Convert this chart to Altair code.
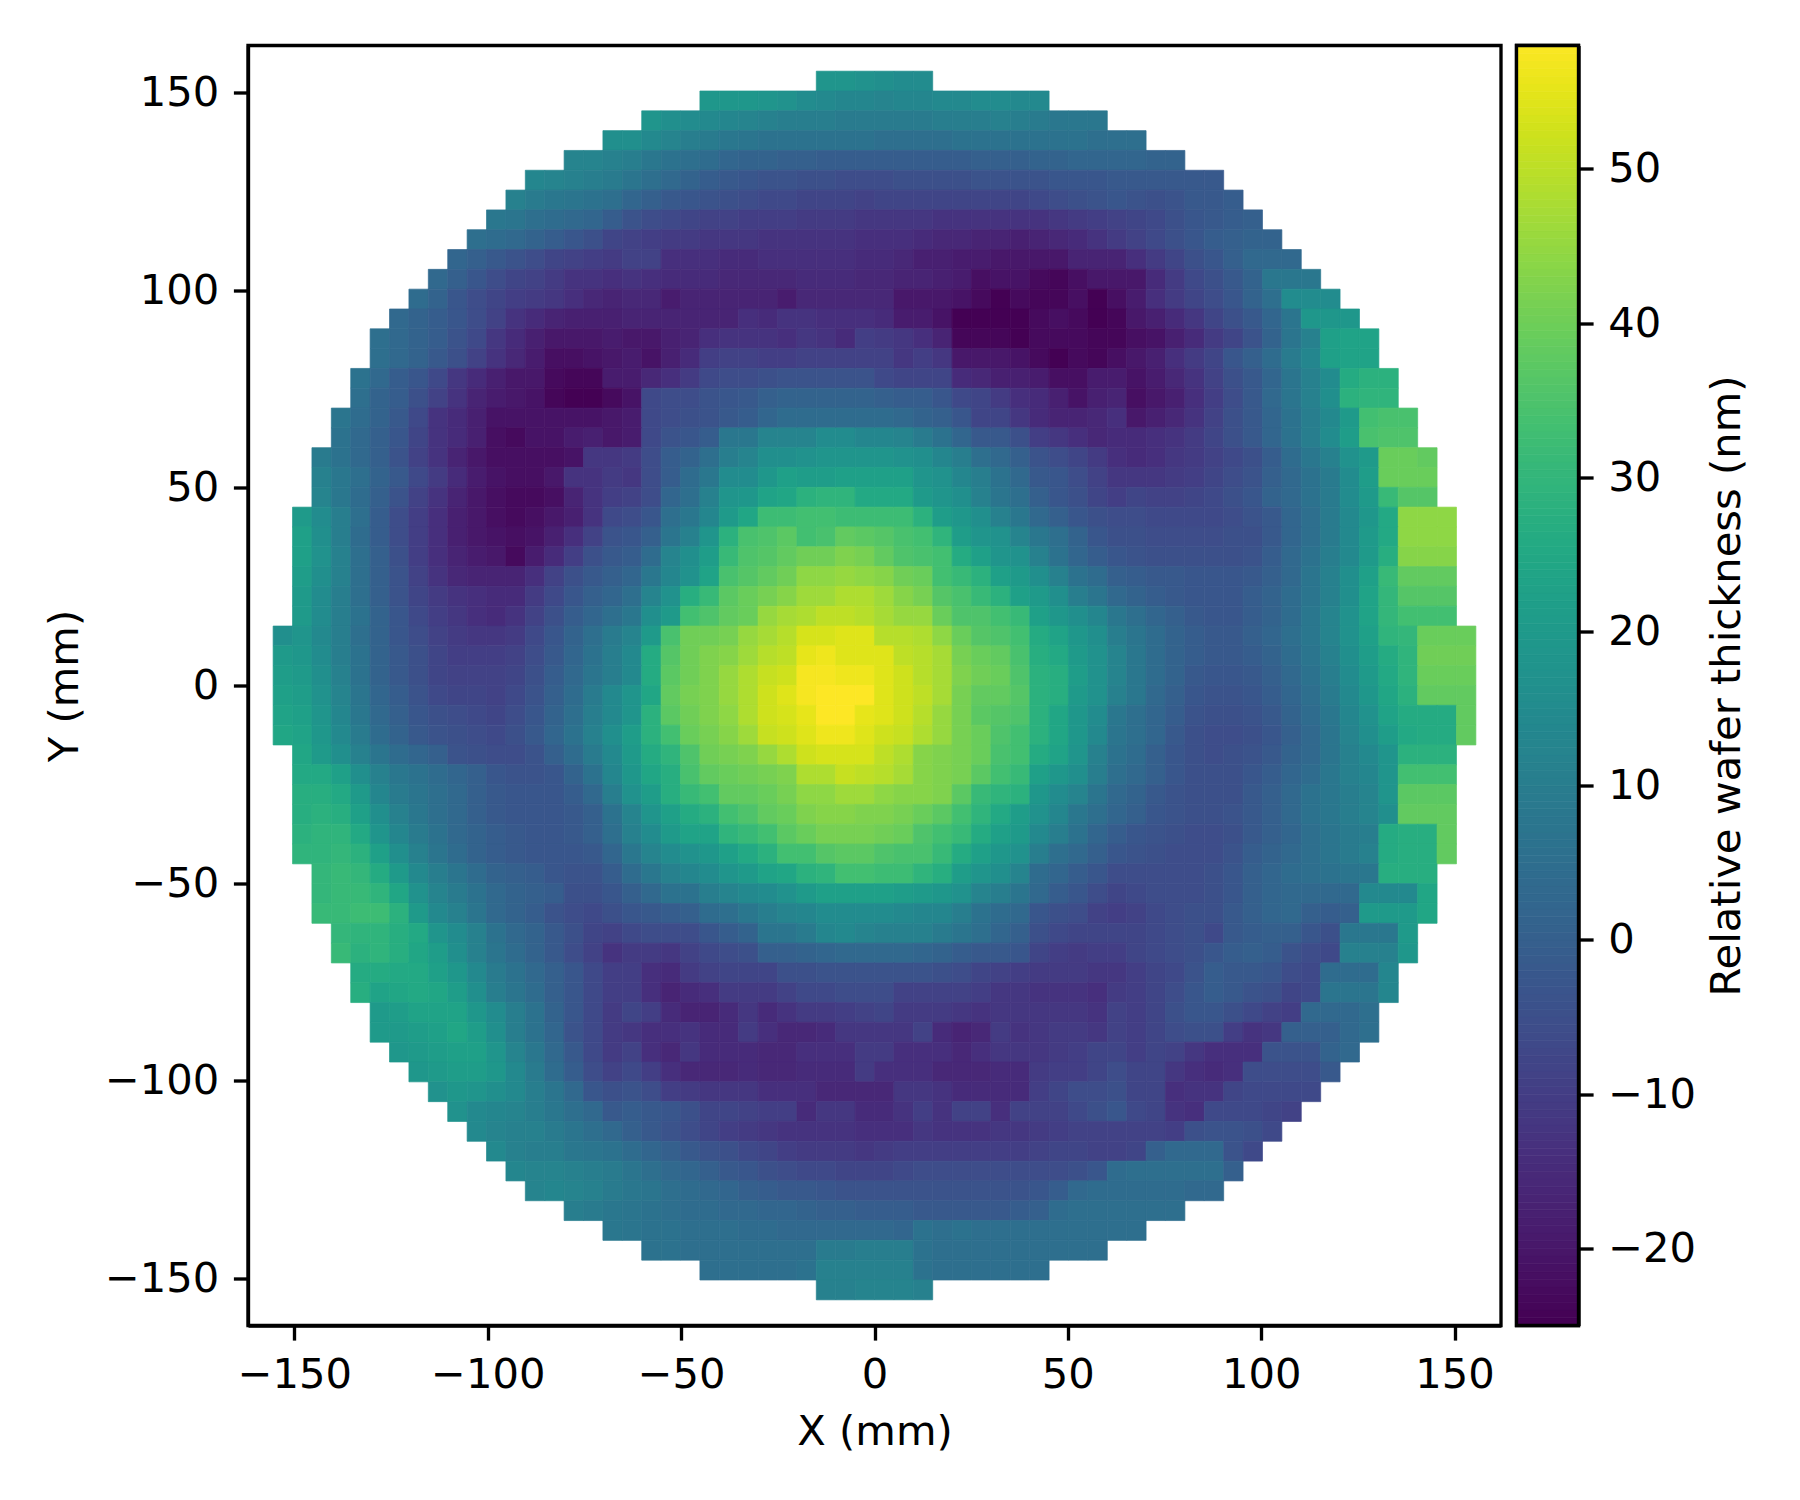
import altair as alt
import numpy as np
import pandas as pd

# thickness per 5 mm cell, top row first, each row centred on x = 0
r00 = [18,18,17,16,15,15]
r01 = [19,19,19,18,17,15,14,13,13,12,13,13,14,14,15,15,14,14]
r02 = [18,16,15,14,13,12,11,10,10,10,9,9,9,9,9,10,10,10,11,10,9,8,8,8]
r03 = [16,16,14,12,10,9,8,7,6,6,6,6,6,6,5,5,5,5,6,6,6,6,6,6,6,5,5,5]
r04 = [12,12,11,10,8,6,5,4,2,1,1,0,0,-1,-1,-1,-1,-1,-1,-1,-1,0,0,0,1,1,2,2,2,2,1,1]
r05 = [13,12,11,10,9,7,5,3,1,-1,-2,-3,-4,-4,-5,-5,-6,-6,-6,-5,-5,-5,-5,-4,-4,-4,-4,-3,-3,-3,-2,-2,-2,-2,-2,-2]
r06 = [11,9,8,7,6,5,2,0,-2,-3,-4,-5,-6,-7,-7,-8,-8,-8,-9,-8,-8,-8,-8,-8,-8,-8,-8,-7,-6,-5,-4,-3,-4,-5,-4,-2,-2,-1]
r07 = [8,7,5,4,3,2,-1,-4,-6,-7,-8,-9,-9,-10,-10,-10,-11,-11,-11,-12,-12,-12,-12,-13,-13,-13,-13,-13,-13,-12,-11,-10,-9,-8,-7,-5,-3,-2,-1,0]
r08 = [5,4,3,1,-1,-3,-5,-8,-9,-10,-11,-11,-12,-12,-12,-13,-13,-13,-13,-13,-14,-14,-14,-15,-16,-16,-17,-17,-18,-17,-16,-15,-13,-11,-9,-7,-5,-3,-1,0,1,1]
r09 = [2,0,-2,-4,-6,-8,-9,-10,-11,-9,-9,-14,-14,-14,-15,-15,-14,-14,-14,-14,-14,-15,-15,-16,-18,-18,-19,-19,-20,-20,-20,-20,-17,-17,-17,-14,-11,-8,-5,-3,0,3,3,3]
r10 = [3,0,-3,-6,-8,-9,-11,-13,-13,-14,-13,-14,-15,-15,-15,-16,-16,-16,-16,-15,-15,-15,-16,-16,-17,-17,-18,-19,-22,-21,-21,-23,-24,-22,-20,-20,-20,-15,-11,-7,-5,-2,1,8,8,8]
r11 = [4,1,-3,-6,-8,-10,-11,-12,-14,-16,-17,-16,-16,-19,-17,-17,-17,-17,-17,-19,-16,-16,-16,-16,-16,-20,-20,-20,-21,-23,-25,-23,-24,-24,-22,-25,-22,-19,-14,-11,-8,-6,-3,1,5,15,15,15]
r12 = [3,1,-1,-3,-6,-9,-13,-15,-17,-18,-18,-18,-17,-17,-17,-17,-17,-17,-14,-15,-13,-13,-14,-14,-14,-15,-19,-19,-21,-25,-25,-25,-25,-23,-22,-23,-25,-24,-20,-18,-15,-12,-8,-5,-2,2,7,19,19,19]
r13 = [5,3,1,-1,-4,-7,-12,-15,-18,-20,-20,-20,-19,-20,-20,-18,-17,-14,-13,-13,-13,-14,-12,-13,-15,-10,-11,-12,-14,-17,-24,-24,-24,-25,-23,-23,-23,-24,-24,-22,-21,-18,-15,-11,-8,-4,1,7,11,22,23,23]
r14 = [5,3,1,-2,-5,-9,-13,-16,-19,-22,-22,-21,-20,-19,-21,-18,-15,-10,-9,-9,-10,-10,-9,-9,-9,-9,-9,-12,-10,-12,-20,-20,-20,-21,-23,-25,-23,-24,-22,-20,-18,-14,-11,-8,-3,0,4,9,13,22,23,23]
r15 = [6,3,-1,-3,-7,-12,-15,-18,-20,-20,-23,-24,-24,-19,-19,-16,-14,-11,-7,-6,-6,-5,-4,-4,-4,-4,-4,-7,-8,-8,-8,-15,-16,-18,-18,-19,-22,-22,-19,-19,-21,-19,-16,-13,-9,-5,-2,2,7,11,15,26,28,28]
r16 = [5,1,-1,-5,-9,-13,-17,-19,-20,-21,-24,-25,-25,-23,-21,-7,-6,-6,-4,-3,-2,0,1,1,1,1,1,0,-1,-1,-3,-7,-8,-11,-14,-15,-18,-21,-18,-17,-22,-20,-18,-14,-10,-6,-2,3,7,11,16,28,29,29]
r17 = [7,4,1,-2,-7,-13,-15,-18,-21,-21,-21,-21,-21,-21,-20,-19,-7,-6,-5,-4,-2,-1,2,4,4,4,4,4,4,3,1,0,-3,-8,-8,-12,-15,-17,-17,-16,-14,-20,-18,-16,-13,-9,-5,-2,2,6,10,14,20,33,34,34]
r18 = [6,3,0,-3,-8,-13,-15,-18,-22,-23,-21,-21,-19,-18,-20,-19,-7,-4,-3,-1,8,8,12,12,12,15,15,13,13,12,9,6,2,-2,-2,-5,-10,-12,-14,-16,-15,-15,-14,-13,-11,-8,-5,-2,2,6,10,15,21,34,35,35]
r19 = [9,6,3,0,-4,-9,-13,-17,-20,-22,-22,-22,-22,-21,-12,-12,-11,-6,-1,1,5,10,12,16,16,17,18,18,18,18,17,16,13,10,5,3,0,-4,-6,-8,-11,-14,-15,-14,-12,-11,-9,-7,-5,-1,4,8,11,17,20,39,39,38]
r20 = [11,8,5,1,-2,-7,-11,-15,-19,-21,-22,-22,-20,-13,-13,-11,-12,-6,-1,4,8,15,15,19,22,21,21,22,22,22,22,18,17,13,10,6,3,-2,-3,-6,-9,-12,-12,-12,-11,-10,-8,-6,-4,0,3,6,9,15,21,39,39,39]
r21 = [12,8,4,0,-4,-9,-13,-17,-20,-22,-23,-23,-22,-17,-13,-10,-9,-6,2,5,11,18,19,23,24,28,29,29,25,25,25,20,18,16,11,7,5,0,-3,-5,-8,-10,-8,-9,-9,-8,-7,-5,-3,1,3,6,9,15,20,31,36,36]
r22 = [20,15,10,5,-1,-6,-10,-14,-18,-20,-22,-23,-22,-20,-18,-13,-7,-6,-3,5,8,13,20,24,32,32,33,33,32,32,32,32,28,21,19,16,11,8,3,0,-3,-5,-6,-6,-7,-7,-7,-7,-6,-4,-2,2,5,9,14,19,25,44,44,44]
r23 = [22,16,10,4,-1,-6,-10,-14,-18,-20,-21,-22,-21,-18,-14,-9,-4,-3,0,7,11,18,28,34,35,37,33,34,38,37,36,34,33,29,21,18,17,12,8,5,1,-3,-5,-5,-6,-6,-6,-6,-5,-5,-2,2,5,9,14,20,25,44,44,44]
r24 = [22,17,11,5,0,-5,-10,-14,-17,-19,-20,-23,-19,-15,-10,-5,-2,-1,4,12,16,21,31,35,36,38,40,40,42,41,38,35,34,33,26,22,18,17,11,6,2,-1,-3,-4,-5,-5,-5,-5,-5,-4,-1,3,6,10,14,20,27,43,43,43]
r25 = [21,16,11,5,0,-4,-9,-13,-16,-17,-17,-17,-14,-9,-5,-2,0,2,8,13,17,23,34,36,38,40,44,44,45,44,43,40,39,33,31,28,22,20,16,11,6,4,0,-1,-2,-2,-3,-3,-3,-2,0,3,7,11,16,22,31,38,38,38]
r26 = [20,15,10,5,0,-4,-8,-11,-13,-14,-15,-15,-11,-7,-3,0,2,5,12,17,27,31,37,39,41,43,46,46,48,48,46,43,41,36,34,31,28,22,20,16,10,7,3,1,-1,-2,-3,-3,-3,-1,1,4,7,11,16,23,30,36,36,36]
r27 = [20,15,10,6,1,-3,-7,-10,-12,-14,-15,-13,-9,-5,-1,2,5,8,16,20,33,35,38,39,45,47,48,50,50,49,47,45,45,39,35,35,33,31,22,19,16,13,8,5,2,0,-2,-3,-3,-1,1,4,8,12,17,23,30,33,33,33]
r28 = [16,18,14,10,5,1,-3,-6,-9,-11,-12,-12,-11,-7,-3,1,5,9,12,20,34,40,40,41,45,47,49,53,53,54,54,49,49,48,44,39,36,35,33,26,23,19,16,10,7,4,1,-1,-2,-2,0,2,5,8,12,17,22,29,30,39,39,39]
r29 = [20,19,15,10,6,1,-2,-5,-8,-10,-10,-10,-9,-6,-2,2,6,10,14,26,36,40,42,43,46,49,50,55,56,54,54,54,50,49,47,41,39,38,34,27,25,20,17,12,8,4,1,-1,-2,-2,-1,1,4,7,11,16,21,26,29,40,40,40]
r30 = [21,20,16,11,6,1,-2,-5,-8,-9,-9,-9,-8,-5,-1,3,7,10,14,26,37,40,42,45,48,51,52,57,57,56,56,54,52,49,47,42,40,39,35,28,27,21,17,12,8,4,1,-2,-3,-3,-2,0,3,6,10,15,20,25,29,39,39,39]
r31 = [22,21,17,12,7,2,-1,-4,-7,-8,-8,-9,-7,-4,0,4,9,14,18,24,38,41,42,45,48,52,54,57,58,58,58,54,52,50,47,41,38,38,36,28,27,20,17,11,8,3,0,-3,-4,-4,-3,-1,2,5,9,14,19,24,28,38,38,38]
r32 = [23,22,18,13,8,3,0,-3,-5,-6,-7,-8,-6,-3,1,5,10,14,18,28,37,40,42,44,48,52,53,55,58,58,55,54,52,49,45,41,37,36,35,28,24,19,15,8,5,2,-1,-4,-5,-5,-4,-2,1,4,8,13,17,23,26,26,26,38]
r33 = [24,23,19,14,9,4,1,-2,-4,-5,-6,-7,-5,-2,2,6,11,16,21,28,33,39,41,43,46,51,52,54,56,56,54,52,51,48,45,41,39,35,33,28,24,19,14,7,5,2,-2,-5,-6,-6,-5,-3,0,3,7,12,16,21,25,26,26,38]
r34 = [24,20,16,11,7,4,2,0,-4,-5,-6,-6,-4,0,4,9,14,20,26,29,35,40,41,42,45,48,52,53,53,53,50,48,43,42,41,39,34,33,26,23,18,11,6,4,0,-3,-5,-6,-5,-4,-2,1,3,7,11,14,18,28,28,28]
r35 = [25,25,22,16,11,8,6,4,2,0,-3,-4,-4,-3,1,6,13,19,24,27,34,38,39,40,41,42,48,48,51,50,49,47,43,42,41,37,33,31,22,19,16,10,5,3,0,-3,-5,-5,-5,-3,-1,2,4,8,11,13,18,33,33,33]
r36 = [27,27,25,20,13,9,7,5,3,0,-2,-3,-3,-3,-1,3,10,17,21,27,31,33,38,38,39,41,44,44,46,46,44,43,43,42,37,31,29,28,19,15,12,7,3,1,-2,-4,-5,-5,-5,-2,0,3,6,8,10,12,18,37,37,37]
r37 = [27,28,27,22,16,11,8,5,3,0,-2,-3,-3,-3,-2,0,6,12,18,22,26,28,33,35,38,39,42,43,43,42,42,41,39,37,33,29,25,21,17,13,8,5,2,0,-3,-4,-5,-5,-4,-2,0,3,6,8,10,12,16,38,38,38]
r38 = [28,29,29,25,18,13,9,6,3,1,-1,-2,-3,-3,-2,0,5,11,15,20,23,23,29,31,33,37,39,41,41,41,40,39,35,33,31,26,22,20,14,10,6,2,-1,-3,-4,-5,-6,-6,-5,-2,0,2,5,7,9,10,26,27,27,38]
r39 = [29,29,30,28,22,16,11,7,4,1,-1,-2,-3,-3,-3,-2,2,8,12,15,17,19,22,25,28,33,33,36,37,37,35,34,34,31,26,22,19,17,10,5,3,0,-3,-4,-5,-6,-6,-6,-4,-1,1,3,5,7,9,11,26,27,27,38]
r40 = [30,31,30,26,20,14,10,7,4,1,0,-1,-3,-4,-4,-1,4,8,11,13,15,18,20,23,24,28,29,33,33,32,32,29,27,21,18,16,12,4,2,-1,-3,-6,-6,-6,-6,-6,-5,-3,0,2,4,5,6,7,8,27,27,27]
r41 = [30,31,31,29,24,17,12,9,6,3,1,0,-1,-5,-5,-3,0,3,6,6,10,12,14,15,17,20,22,22,22,22,21,20,19,17,12,10,7,3,-1,-3,-6,-8,-7,-6,-6,-6,-5,-3,0,2,3,3,3,3,14,14,14,24]
r42 = [31,31,32,32,28,20,14,11,7,3,1,-1,-4,-6,-7,-5,-3,-2,-1,0,4,5,8,10,12,13,15,15,15,15,14,13,13,10,6,4,3,-3,-5,-6,-9,-10,-9,-7,-6,-5,-5,-2,0,2,3,0,-1,0,20,20,20,24]
r43 = [30,29,29,27,25,18,15,11,6,3,1,-2,-5,-8,-9,-7,-6,-6,-6,-3,-1,1,7,7,9,13,14,12,11,11,11,9,7,5,2,0,-5,-7,-8,-8,-8,-8,-7,-6,-5,-7,-2,-1,0,0,-3,-5,8,8,8,20]
r44 = [31,28,29,27,24,21,16,11,7,4,1,-2,-6,-9,-13,-11,-11,-12,-9,-7,-6,-5,0,0,1,2,3,3,3,3,2,1,-1,-2,-2,-3,-8,-10,-11,-10,-10,-8,-7,-6,-5,-3,-1,0,-1,-4,-6,-7,11,11,11,19]
r45 = [26,26,25,25,22,19,14,9,6,3,0,-3,-7,-10,-10,-14,-15,-11,-9,-8,-8,-8,-5,-5,-4,-4,-4,-4,-4,-4,-5,-6,-8,-9,-10,-11,-11,-11,-12,-12,-10,-8,-7,-4,-1,-2,-2,-3,-6,-7,4,4,4,13]
r46 = [27,23,24,25,24,21,16,10,7,4,0,-3,-7,-10,-10,-14,-17,-15,-14,-11,-11,-11,-9,-7,-7,-6,-6,-6,-9,-9,-9,-9,-10,-12,-12,-13,-13,-13,-14,-11,-10,-8,-6,-3,-1,-2,-4,-5,-8,-7,7,7,7,13]
r47 = [20,21,23,23,23,19,15,10,6,1,-3,-7,-11,-8,-10,-15,-17,-17,-15,-12,-15,-13,-11,-11,-10,-9,-8,-11,-11,-11,-12,-13,-12,-12,-12,-12,-12,-13,-9,-10,-8,-5,-3,-3,-5,-7,-9,-10,3,3,3,5]
r48 = [20,20,21,22,24,21,16,10,6,2,-4,-7,-11,-12,-14,-14,-13,-15,-15,-11,-14,-16,-16,-15,-12,-12,-12,-12,-9,-15,-17,-16,-11,-13,-12,-11,-11,-12,-9,-10,-8,-6,-5,-5,-10,-13,-12,0,0,0,3,5]
r49 = [19,20,21,22,22,18,12,8,3,-2,-7,-11,-9,-14,-16,-12,-15,-15,-15,-16,-16,-14,-14,-14,-11,-11,-14,-14,-14,-16,-14,-12,-12,-12,-11,-10,-8,-8,-10,-8,-9,-12,-14,-14,-14,-4,-4,-4,1,3]
r50 = [19,20,21,21,19,14,9,4,-1,-6,-9,-7,-10,-14,-16,-16,-16,-15,-16,-16,-15,-15,-15,-11,-14,-14,-14,-16,-16,-16,-15,-15,-11,-10,-10,-8,-6,-8,-8,-12,-14,-15,-14,-6,-6,-6,-6,-2]
r51 = [17,19,18,16,14,10,7,3,-3,-5,-4,-6,-10,-11,-12,-12,-12,-14,-14,-14,-16,-16,-16,-16,-12,-12,-13,-15,-15,-15,-15,-10,-8,-6,-6,-5,-8,-8,-14,-13,-13,-8,-7,-7,-7,-7]
r52 = [17,14,13,12,10,8,5,3,-2,-1,-2,-3,-5,-8,-8,-9,-10,-10,-15,-12,-12,-15,-15,-13,-10,-13,-9,-9,-14,-9,-9,-9,-7,-5,-3,-7,-8,-13,-14,-7,-7,-7,-8,-9]
r53 = [14,12,11,11,9,7,5,3,0,-2,-4,-6,-8,-10,-11,-12,-13,-13,-13,-13,-14,-14,-14,-12,-13,-13,-13,-12,-12,-11,-10,-9,-9,-9,-9,-9,-10,-5,-4,-4,-5,-7]
r54 = [14,11,10,10,8,7,6,4,2,0,-2,-4,-5,-7,-8,-10,-11,-11,-11,-12,-11,-10,-10,-10,-10,-10,-10,-10,-9,-8,-8,-9,-9,-8,0,3,3,3,-4,-7]
r55 = [13,12,12,11,10,9,7,5,3,2,0,-2,-3,-5,-6,-7,-7,-8,-8,-8,-7,-6,-6,-6,-6,-6,-6,-6,-6,-5,-3,4,5,5,5,5,5,0]
r56 = [12,13,12,11,9,8,7,5,4,3,2,0,-1,-2,-2,-3,-4,-4,-4,-4,-4,-4,-4,-4,-4,-4,-3,-1,3,4,4,4,4,4,3,3]
r57 = [10,9,8,7,6,5,4,4,3,3,2,2,1,0,0,-1,-1,-1,-2,-2,-2,-2,-2,-1,0,4,5,5,5,5,5,5]
r58 = [8,7,6,6,5,5,5,4,4,3,3,3,3,3,3,2,6,5,6,5,5,5,5,5,5,5,5,5]
r59 = [6,6,5,5,5,5,5,5,5,9,9,10,10,10,6,5,5,5,5,5,5,5,5,5]
r60 = [5,5,5,5,5,6,11,11,11,11,11,6,5,5,5,5,5,5]
r61 = [11,11,12,12,12,11]

vmin, vmax = -25, 58
x_ticks = [-150, -100, -50, 0, 50, 100, 150]
y_ticks = [-150, -100, -50, 0, 50, 100, 150]
cbar_ticks = [-20, -10, 0, 10, 20, 30, 40, 50]

rows = [globals()[f"r{i:02d}"] for i in range(62)]
edge = 155.5
cell = 2 * edge / 62

cells = []
for i, row in enumerate(rows):
    start = (62 - len(row)) // 2
    for j, v in enumerate(row):
        xl = -edge + (start + j) * cell
        yt = edge - i * cell
        cells.append({"x": xl, "x2": xl + cell, "y": yt - cell, "y2": yt, "v": v})
df = pd.DataFrame(cells)

color_scale = alt.Scale(scheme="viridis", domain=[vmin, vmax])
lim = alt.Scale(domain=[-162, 162], nice=False, zero=False)

wafer = alt.Chart(df).mark_rect(strokeWidth=0.7).encode(
    x=alt.X("x:Q", scale=lim, title="X (mm)",
            axis=alt.Axis(values=x_ticks, titlePadding=15)),
    x2="x2:Q",
    y=alt.Y("y:Q", scale=lim, title="Y (mm)",
            axis=alt.Axis(values=y_ticks, titlePadding=18)),
    y2="y2:Q",
    color=alt.Color("v:Q", scale=color_scale, legend=None),
    stroke=alt.Stroke("v:Q", scale=color_scale, legend=None),
).properties(width=1253, height=1280)

# colorbar
bands = pd.DataFrame({"v": np.arange(vmin, vmax, 0.5)})
bands["v2"] = bands["v"] + 0.5
cbar_y = alt.Scale(domain=[vmin, vmax], nice=False, zero=False)
cbar_rects = alt.Chart(bands).mark_rect(strokeWidth=0.7).encode(
    y=alt.Y("v:Q", scale=cbar_y, title="Relative wafer thickness (nm)",
            axis=alt.Axis(orient="right", values=cbar_ticks, titlePadding=53, titleAngle=270,
                          titleBaseline="bottom")),
    y2="v2:Q",
    color=alt.Color("v:Q", scale=color_scale, legend=None),
    stroke=alt.Stroke("v:Q", scale=color_scale, legend=None),
)
cbar_frame = alt.Chart(pd.DataFrame({"lo": [vmin], "hi": [vmax]})).mark_rect(
    fillOpacity=0, stroke="black", strokeWidth=3.33
).encode(y=alt.Y("lo:Q", scale=cbar_y), y2="hi:Q")
cbar = alt.layer(cbar_rects, cbar_frame).properties(width=62, height=1280)

chart = alt.hconcat(wafer, cbar, spacing=9.5).resolve_scale(color="independent").properties(
    padding={"left": 34, "top": 33.5, "right": 0, "bottom": 0}
).configure_view(
    stroke="black", strokeWidth=3.33
).configure_axis(
    grid=False,
    domainColor="black", domainWidth=3.33,
    tickColor="black", tickWidth=3.33, tickSize=14.6,
    labelColor="black", labelFont="DejaVu Sans", labelFontSize=41.67, labelPadding=14.6,
    titleColor="black", titleFont="DejaVu Sans", titleFontSize=41.67, titleFontWeight="normal",
)

chart.save("out.html", embed_options={"renderer": "svg", "actions": False})
